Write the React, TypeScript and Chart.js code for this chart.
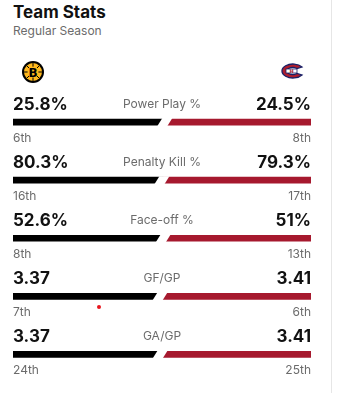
import React, { useEffect, useRef } from "react";
import { Chart, registerables } from "chart.js";

Chart.register(...registerables);

const categories = ["Power Play %", "Penalty Kill %", "Face-off %", "GF/GP", "GA/GP"];
const homeValues = [25.8, 80.3, 52.6, 3.37, 3.37];
const awayValues = [24.5, 79.3, 51, 3.41, 3.41];
const homeLabels = ["25.8%", "80.3%", "52.6%", "3.37", "3.37"];
const awayLabels = ["24.5%", "79.3%", "51%", "3.41", "3.41"];
const homeRanks = ["6th", "16th", "8th", "7th", "24th"];
const awayRanks = ["8th", "17th", "13th", "6th", "25th"];

const BLACK = "#000000";
const RED = "#a6192e";
const GRAY = "#6b6b6b";
const FONT = "Inter, 'Noto Sans', sans-serif";

const textPlugin = {
  id: "statText",
  afterDatasetsDraw(chart: any) {
    const ctx = chart.ctx;
    const meta = chart.getDatasetMeta(0);
    const { left, right } = chart.chartArea;
    const mid = (left + right) / 2;
    ctx.save();
    meta.data.forEach((el: any, i: number) => {
      const x = el.x;
      const y = el.y;
      const h = el.height;
      // slanted gap
      ctx.fillStyle = "#ffffff";
      ctx.beginPath();
      ctx.moveTo(x - 3.5, y - h / 2 - 1);
      ctx.lineTo(x + 6.5, y - h / 2 - 1);
      ctx.lineTo(x + 1.5, y + h / 2 + 1);
      ctx.lineTo(x - 8.5, y + h / 2 + 1);
      ctx.closePath();
      ctx.fill();

      ctx.textBaseline = "alphabetic";
      ctx.fillStyle = "#111111";
      ctx.font = `700 17px ${FONT}`;
      ctx.textAlign = "left";
      ctx.fillText(homeLabels[i], left, y - 12);
      ctx.textAlign = "right";
      ctx.fillText(awayLabels[i], right, y - 12);

      ctx.fillStyle = GRAY;
      ctx.font = `400 12px ${FONT}`;
      ctx.textAlign = "center";
      ctx.fillText(categories[i], mid, y - 14);
      ctx.textAlign = "left";
      ctx.fillText(homeRanks[i], left, y + 20);
      ctx.textAlign = "right";
      ctx.fillText(awayRanks[i], right, y + 20);
    });
    ctx.restore();
  },
};

function StatsChart() {
  const ref = useRef<HTMLCanvasElement>(null);
  useEffect(() => {
    if (!ref.current) return;
    const homeShare = homeValues.map((v, i) => v / (v + awayValues[i]));
    const awayShare = awayValues.map((v, i) => v / (homeValues[i] + v));
    const chart = new Chart(ref.current, {
      type: "bar",
      data: {
        labels: categories,
        datasets: [
          { data: homeShare, backgroundColor: BLACK, barThickness: 6, borderWidth: 0 },
          { data: awayShare, backgroundColor: RED, barThickness: 6, borderWidth: 0 },
        ],
      },
      options: {
        indexAxis: "y",
        animation: false,
        responsive: false,
        maintainAspectRatio: false,
        layout: { padding: { left: 13, right: 20, top: 3, bottom: 9.5 } },
        scales: {
          x: { stacked: true, min: 0, max: 1, display: false },
          y: { stacked: true, display: false },
        },
        plugins: { legend: { display: false }, tooltip: { enabled: false } },
      },
      plugins: [textPlugin],
    });
    return () => chart.destroy();
  }, []);
  return <canvas ref={ref} width={331} height={303} style={{ position: "absolute", left: 0, top: 90, width: 331, height: 303 }} />;
}

function BruinsLogo() {
  const spokes = [0, 45, 90, 135];
  return (
    <svg width="24" height="24" viewBox="-12 -12 24 24" style={{ position: "absolute", left: 21, top: 60 }}>
      <circle r="11" fill="#000" />
      <circle r="9" fill="#FFB81C" />
      {spokes.map((a) => (
        <line key={a} x1={-9 * Math.cos((a * Math.PI) / 180)} y1={-9 * Math.sin((a * Math.PI) / 180)} x2={9 * Math.cos((a * Math.PI) / 180)} y2={9 * Math.sin((a * Math.PI) / 180)} stroke="#000" strokeWidth="1" />
      ))}
      <circle r="5.5" fill="#FFB81C" />
      <text x="0" y="4.5" textAnchor="middle" fontFamily="'DejaVu Sans', sans-serif" fontWeight="900" fontSize="12" fill="#000">B</text>
    </svg>
  );
}

function HabsLogo() {
  return (
    <svg width="26" height="16" viewBox="0 0 26 16" style={{ position: "absolute", left: 278, top: 63 }}>
      <path d="M24 4 A11 7 0 1 0 24 12 L19 10.5 A6 3.5 0 1 1 19 5.5 Z" fill="#AF1E2D" stroke="#192168" strokeWidth="1.3" />
      <rect x="8" y="6" width="11" height="4" fill="#fff" stroke="#192168" strokeWidth="0.8" />
      <text x="13.5" y="9.6" textAnchor="middle" fontFamily="'DejaVu Sans', sans-serif" fontWeight="700" fontSize="5" fill="#AF1E2D">H</text>
    </svg>
  );
}

export default function App() {
  return (
    <div style={{ position: "fixed", left: 0, top: 0, width: 341, height: 393, background: "#fff", fontFamily: FONT }}>
      <div style={{ position: "absolute", left: 13, top: 1, fontSize: 17, fontWeight: 700, color: "#111", lineHeight: "22px" }}>Team Stats</div>
      <div style={{ position: "absolute", left: 13, top: 23, fontSize: 12, fontWeight: 400, color: GRAY, lineHeight: "16px" }}>Regular Season</div>
      <BruinsLogo />
      <HabsLogo />
      <div style={{ position: "absolute", left: 331, top: 0, width: 1, height: 393, background: "#e6e6e6" }} />
      <div style={{ position: "absolute", left: 97, top: 305, width: 4, height: 4, borderRadius: 2, background: "#e8161e" }} />
      <StatsChart />
    </div>
  );
}
